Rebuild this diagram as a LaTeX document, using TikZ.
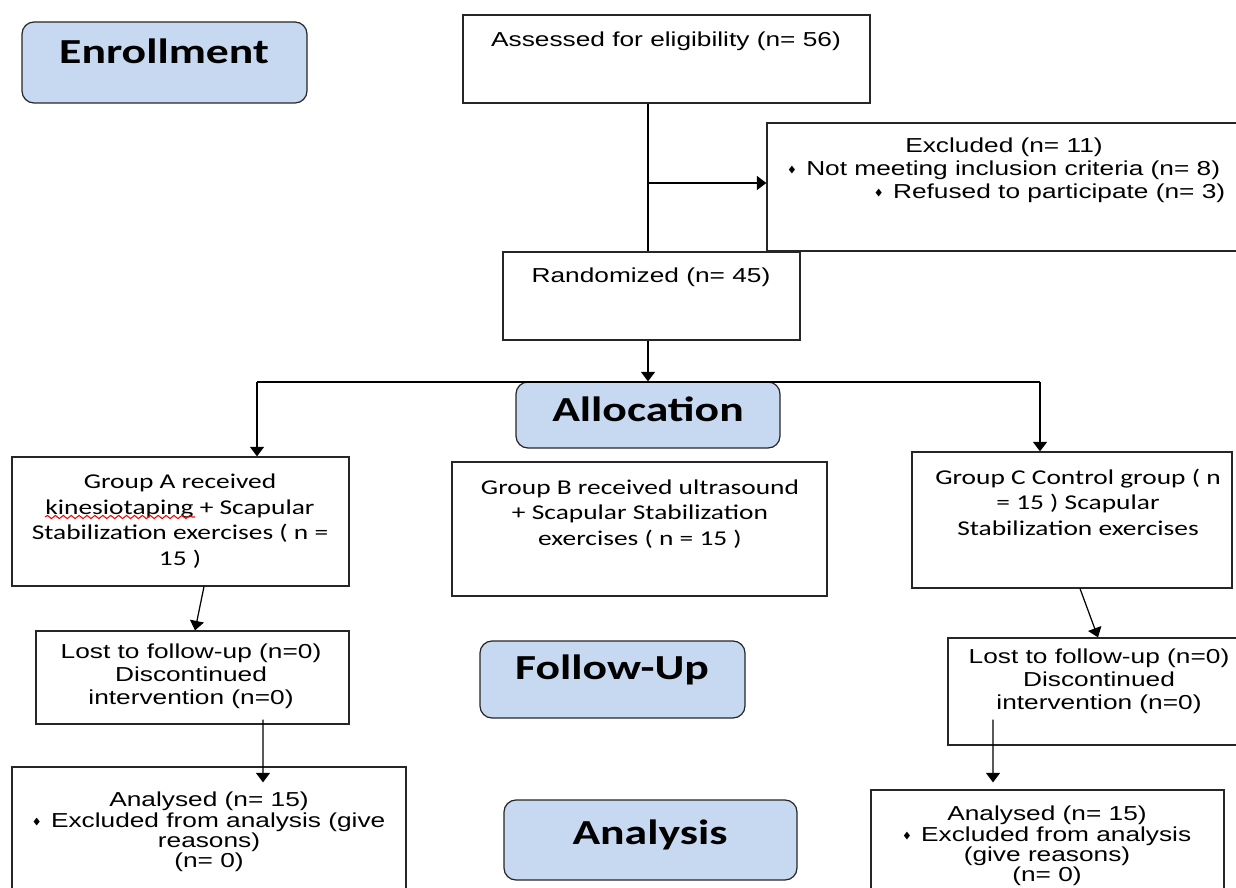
\documentclass[tikz,border=0pt]{standalone}
\usepackage{amssymb}
\usepackage{fontspec}
\setmainfont{Liberation Sans}[FakeStretch=1.3]
\newfontfamily\calibri{Carlito}[FakeStretch=1.3]
\usetikzlibrary{arrows.meta, decorations.pathmorphing}
\definecolor{stageblue}{RGB}{198,217,241}
\newcommand\blt{\raisebox{0.12em}{\tiny$\blacklozenge$}\enspace}

\begin{document}
\begin{tikzpicture}[x=0.02cm, y=-0.02cm,
  box/.style={draw=black!85, line width=0.7pt, inner sep=0pt},
  stage/.style={box, rounded corners=0.24cm, fill=stageblue},
  sz/.style 2 args={minimum width=#1*0.02cm, minimum height=#2*0.02cm},
  txt/.style={align=center, inner sep=0pt, font=\fontsize{11.5}{13}\selectfont},
  anatxt/.style={align=center, inner sep=0pt, font=\fontsize{11.5}{11.6}\selectfont},
  cal/.style={align=center, inner sep=0pt, font=\calibri\fontsize{12}{14.5}\selectfont},
  stagetxt/.style={inner sep=0pt, font=\calibri\bfseries\fontsize{20}{24}\selectfont},
  link/.style={line width=0.7pt},
  arr/.style={line width=0.7pt, -{Triangle[length=0.19cm, width=0.28cm]}},
  spell/.style={draw=red, line width=0.6pt, decorate, decoration={snake, amplitude=0.9pt, segment length=4.5pt}}]
\useasboundingbox (0,0) rectangle (1236,888);
\clip (0,0) rectangle (1236,888);

\node[stage, sz={285}{81}] (enroll) at (164.5,62.5) {};
\node[stagetxt] (enroll-t) at (164,51) {Enrollment};
\node[stage, sz={264}{66}] (alloc) at (648,415) {};
\node[stagetxt] (alloc-t) at (648,409) {Allocation};
\node[stage, sz={265}{77}] (follow) at (612.5,679.5) {};
\node[stagetxt] (follow-t) at (612,670) {Follow-Up};
\node[stage, sz={293}{80}] (analysis) at (650.5,840) {};
\node[stagetxt] (analysis-t) at (650,835) {Analysis};

\node[box, sz={407}{88}] (assess) at (666.5,59) {};
\node[txt] (assess-t) at (666,41) {Assessed for eligibility (n= 56)};
\node[box, sz={483}{128}] (excl) at (1008.5,187) {};
\node[txt] (excl-t) at (1004,170) {Excluded (n= 11)\\\blt Not meeting inclusion criteria (n= 8)\\\hspace*{1.84cm}\blt Refused to participate (n= 3)};
\node[box, sz={297}{88}] (rand) at (651.5,296) {};
\node[txt] (rand-t) at (651,277) {Randomized (n= 45)};

\coordinate (trunk) at (648,183);
\draw[link] (assess.south -| trunk) -- (rand.north -| trunk);
\draw[arr] (trunk) -- (trunk -| excl.west);
\draw[arr] (rand.south -| trunk) -- (alloc.north -| trunk);

\node[box, sz={337}{129}] (grpA) at (180.5,521.5) {};
\node[cal] (grpA-t) at (180,521) {Group A received\\kinesiotaping + Scapular\\Stabilization exercises ( n =\\15 )};
\draw[spell] (45,517) -- (195,517);
\node[box, sz={375}{134}] (grpB) at (639.5,529) {};
\node[cal] (grpB-t) at (640,514) {Group B received ultrasound\\+ Scapular Stabilization\\exercises ( n = 15 )};
\node[box, sz={320}{136}] (grpC) at (1072,520) {};
\node[cal] (grpC-t) at (1078,502) {Group C Control group ( n\\= 15 ) Scapular\\Stabilization exercises};

\coordinate (splitA) at (257,382);
\coordinate (splitC) at (1040,382);
\draw[link] (splitA) -- (splitC);
\draw[arr] (splitA) -- (splitA |- grpA.north);
\draw[arr] (splitC) -- (splitC |- grpC.north);

\node[box, sz={313}{93}] (lostA) at (192.5,677.5) {};
\node[txt] (lostA-t) at (191,676) {Lost to follow-up (n=0)\\Discontinued\\intervention (n=0)};
\node[box, sz={297}{107}] (lostC) at (1096.5,691.5) {};
\node[txt] (lostC-t) at (1099,681) {Lost to follow-up (n=0)\\Discontinued\\intervention (n=0)};
\draw[arr] ([xshift=0.47cm]grpA.south) -- ([xshift=0.05cm]lostA.north);
\draw[arr] ([xshift=0.16cm]grpC.south) -- ([xshift=0.03cm]lostC.north);

\node[box, sz={394}{150}] (anaA) at (209,842) {};
\node[anatxt] (anaA-t) at (209,832) {Analysed (n= 15)\\\blt Excluded from analysis (give\\reasons)\\(n= 0)};
\node[box, sz={353}{150}] (anaC) at (1047.5,865) {};
\node[anatxt] (anaC-t) at (1047,846) {Analysed (n= 15)\\\blt Excluded from analysis\\(give reasons)\\(n= 0)};
\draw[arr] ([xshift=1.41cm, yshift=0.1cm]lostA.south) -- ([xshift=1.08cm, yshift=-0.32cm]anaA.north);
\draw[arr] ([xshift=-2.07cm, yshift=0.52cm]lostC.south) -- ([xshift=-1.09cm, yshift=0.14cm]anaC.north);
\end{tikzpicture}
\end{document}
